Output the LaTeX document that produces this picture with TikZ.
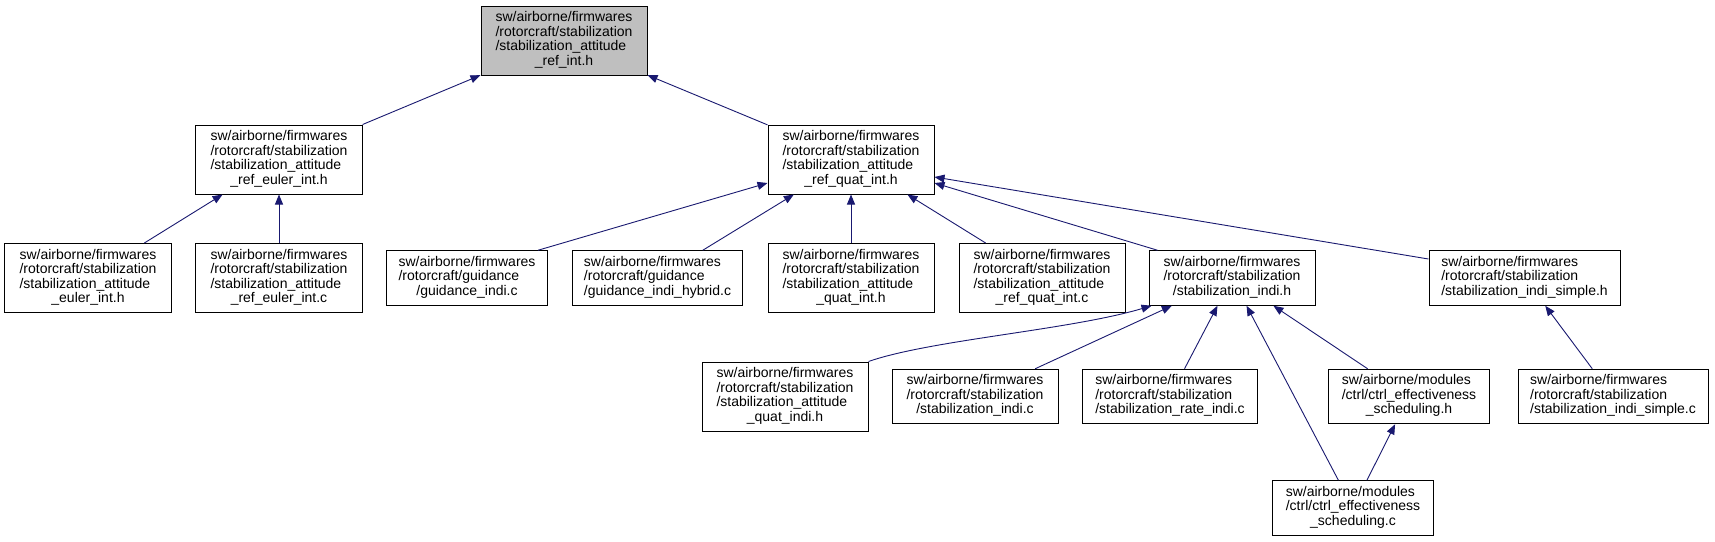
\documentclass[tikz,border=0pt]{standalone}
\usepackage{fontspec}
\setmainfont{Liberation Sans}
\usetikzlibrary{arrows.meta}
\definecolor{edgeblue}{HTML}{191970}
\definecolor{rootgray}{HTML}{BFBFBF}
\newcommand{\lbl}[2]{\fontsize{14}{14.5}\selectfont\begin{tabular}{@{}l@{}}#1\\\multicolumn{1}{@{}c@{}}{#2}\end{tabular}}
\tikzset{
  box/.style={draw=black, line width=1pt, fill=white, inner sep=0pt, minimum height=69pt, align=center},
  boxthree/.style={box, minimum height=54.5pt},
  edge/.style={draw=edgeblue, line width=0.9pt, -{Triangle[length=10pt,width=8pt,fill=edgeblue]}},
}
\begin{document}
\begin{tikzpicture}[x=1pt,y=-1pt]
\useasboundingbox[fill=white] (0,0) rectangle (1715,541);
% level 0
\node[box, fill=rootgray, minimum width=166pt] (root) at (564,40.5)
  {\lbl{sw/airborne/firmwares\\/rotorcraft/stabilization\\/stabilization\_attitude}{\_ref\_int.h}};
% level 1
\node[box, minimum width=167pt] (refeulerh) at (279,159.5)
  {\lbl{sw/airborne/firmwares\\/rotorcraft/stabilization\\/stabilization\_attitude}{\_ref\_euler\_int.h}};
\node[box, minimum width=166pt] (refquath) at (851,159.5)
  {\lbl{sw/airborne/firmwares\\/rotorcraft/stabilization\\/stabilization\_attitude}{\_ref\_quat\_int.h}};
% level 2
\node[box, minimum width=167pt] (eulerh) at (88,278)
  {\lbl{sw/airborne/firmwares\\/rotorcraft/stabilization\\/stabilization\_attitude}{\_euler\_int.h}};
\node[box, minimum width=167pt] (refeulerc) at (279,278)
  {\lbl{sw/airborne/firmwares\\/rotorcraft/stabilization\\/stabilization\_attitude}{\_ref\_euler\_int.c}};
\node[boxthree, minimum width=161pt] (guidc) at (467,278)
  {\lbl{sw/airborne/firmwares\\/rotorcraft/guidance}{/guidance\_indi.c}};
\node[boxthree, minimum width=170pt] (guidhyb) at (657.5,278)
  {\lbl{sw/airborne/firmwares\\/rotorcraft/guidance}{/guidance\_indi\_hybrid.c}};
\node[box, minimum width=166pt] (quath) at (851,278)
  {\lbl{sw/airborne/firmwares\\/rotorcraft/stabilization\\/stabilization\_attitude}{\_quat\_int.h}};
\node[box, minimum width=166pt] (refquatc) at (1042,278)
  {\lbl{sw/airborne/firmwares\\/rotorcraft/stabilization\\/stabilization\_attitude}{\_ref\_quat\_int.c}};
\node[boxthree, minimum width=166pt] (indih) at (1232,278)
  {\lbl{sw/airborne/firmwares\\/rotorcraft/stabilization}{/stabilization\_indi.h}};
\node[boxthree, minimum width=191pt] (simpleh) at (1524.5,278)
  {\lbl{sw/airborne/firmwares\\/rotorcraft/stabilization}{/stabilization\_indi\_simple.h}};
% level 3
\node[box, minimum width=166pt] (quatindi) at (785,396.5)
  {\lbl{sw/airborne/firmwares\\/rotorcraft/stabilization\\/stabilization\_attitude}{\_quat\_indi.h}};
\node[boxthree, minimum width=166pt] (indic) at (975,396.5)
  {\lbl{sw/airborne/firmwares\\/rotorcraft/stabilization}{/stabilization\_indi.c}};
\node[boxthree, minimum width=175pt] (ratec) at (1170,396.5)
  {\lbl{sw/airborne/firmwares\\/rotorcraft/stabilization}{/stabilization\_rate\_indi.c}};
\node[boxthree, minimum width=161pt] (effh) at (1409,396.5)
  {\lbl{sw/airborne/modules\\/ctrl/ctrl\_effectiveness}{\_scheduling.h}};
\node[boxthree, minimum width=190pt] (simplec) at (1613,396.5)
  {\lbl{sw/airborne/firmwares\\/rotorcraft/stabilization}{/stabilization\_indi\_simple.c}};
% level 4
\node[boxthree, minimum width=161pt] (effc) at (1353,508)
  {\lbl{sw/airborne/modules\\/ctrl/ctrl\_effectiveness}{\_scheduling.c}};
% edges
\draw[edge] (refeulerh) -- (root);
\draw[edge] (refquath) -- (root);
\draw[edge] (eulerh) -- (refeulerh);
\draw[edge] (refeulerc) -- (refeulerh);
\draw[edge] ([xshift=-10pt]guidc.north east) -- ([yshift=-23.5pt]refquath.west);
\draw[edge] (guidhyb) -- (refquath);
\draw[edge] (quath) -- (refquath);
\draw[edge] (refquatc) -- (refquath);
\draw[edge] ([xshift=9pt]indih.north west) -- ([yshift=-23.5pt]refquath.east);
\draw[edge] ([yshift=19pt]simpleh.west) -- ([yshift=-17.5pt]refquath.east);
\draw[edge] (quatindi.north east) .. controls (930,340) and (1070,330) .. ([xshift=3pt]indih.south west);
\draw[edge] (indic) -- (indih);
\draw[edge] (ratec) -- (indih);
\draw[edge] (effc) -- (indih);
\draw[edge] (effh) -- (indih);
\draw[edge] (simplec) -- (simpleh);
\draw[edge] (effc) -- (effh);
\end{tikzpicture}
\end{document}
